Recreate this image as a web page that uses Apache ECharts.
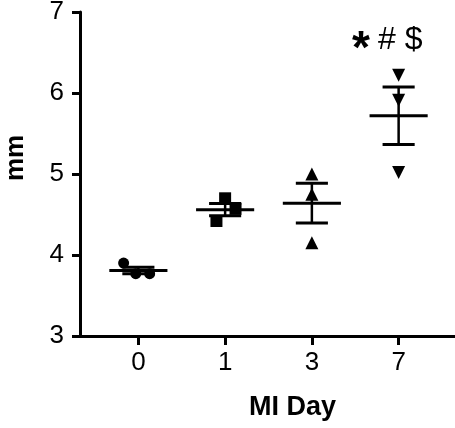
<!DOCTYPE html>
<html><head><meta charset="utf-8">
<script src="https://cdn.jsdelivr.net/npm/echarts@6/dist/echarts.min.js"></script>
<style>html,body{margin:0;padding:0;background:#fff}#c{width:455px;height:428px}</style>
</head><body><div id="c"></div>
<script>
const categories = ['0', '1', '3', '7'];
const yMin = 3, yMax = 7, yStep = 1;
const day0 = [3.90, 3.77, 3.77];
const day1 = [4.70, 4.57, 4.42];
const day3 = [5.00, 4.75, 4.15];
const day7 = [6.22, 5.91, 5.02];
const jitter0 = [-0.17, -0.03, 0.13];
const jitter1 = [0, 0.12, -0.10];
const jitter3 = [0, 0, 0];
const jitter7 = [0, 0, 0];
const means = [3.81, 4.56, 4.64, 5.72];
const sems = [0.04, 0.075, 0.245, 0.355];
const annotationStar = '*';
const annotationRest = '# $';
const yName = 'mm';
const xName = 'MI Day';

const FONT = "'Liberation Sans', Arial, sans-serif";
const chart = echarts.init(document.getElementById('c'), null, {renderer: 'canvas'});

function pts(vals, jit, idx) {
  return vals.map((v, i) => [idx + jit[i], v]);
}

const groups = [
  {vals: day0, jit: jitter0, symbol: 'circle', size: 11, rot: 0},
  {vals: day1, jit: jitter1, symbol: 'rect', size: 12, rot: 0},
  {vals: day3, jit: jitter3, symbol: 'triangle', size: 13, rot: 0},
  {vals: day7, jit: jitter7, symbol: 'triangle', size: 13, rot: 180}
];

const scatterSeries = groups.map((g, i) => ({
  type: 'scatter',
  xAxisIndex: 1, yAxisIndex: 1,
  symbol: g.symbol, symbolSize: g.size, symbolRotate: g.rot,
  itemStyle: {color: '#000', opacity: 1},
  z: 5,
  silent: true,
  data: pts(g.vals, g.jit, i)
}));

const errData = means.map((m, i) => [i, m, sems[i]]);

const errSeries = {
  type: 'custom',
  xAxisIndex: 1, yAxisIndex: 1,
  z: 3,
  silent: true,
  data: errData,
  renderItem: function (params, api) {
    const x = api.value(0), m = api.value(1), s = api.value(2);
    const meanW = 0.335, capW = 0.185;
    const ml = api.coord([x - meanW, m]), mr = api.coord([x + meanW, m]);
    const top = api.coord([x, m + s]), bot = api.coord([x, m - s]);
    const tl = api.coord([x - capW, m + s]), tr = api.coord([x + capW, m + s]);
    const bl = api.coord([x - capW, m - s]), br = api.coord([x + capW, m - s]);
    const st = {stroke: '#000', lineWidth: 3, fill: null};
    return {
      type: 'group',
      children: [
        {type: 'line', shape: {x1: top[0], y1: top[1], x2: bot[0], y2: bot[1]}, style: {stroke: '#000', lineWidth: 2.5}},
        {type: 'line', shape: {x1: ml[0], y1: ml[1], x2: mr[0], y2: mr[1]}, style: st},
        {type: 'line', shape: {x1: tl[0], y1: tl[1], x2: tr[0], y2: tr[1]}, style: st},
        {type: 'line', shape: {x1: bl[0], y1: bl[1], x2: br[0], y2: br[1]}, style: st}
      ]
    };
  }
};

const option = {
  animation: false,
  backgroundColor: '#fff',
  grid: [
    {left: 80, right: 0, top: 12, bottom: 92, containLabel: false, outerBoundsMode: 'none'},
    {left: 95, width: 347, top: 12, bottom: 92, containLabel: false, outerBoundsMode: 'none'}
  ],
  xAxis: [
    {gridIndex: 0, type: 'value', min: 0, max: 1,
     axisLine: {show: true, lineStyle: {color: '#000', width: 3}},
     axisTick: {show: false}, axisLabel: {show: false}, splitLine: {show: false}},
    {gridIndex: 1, type: 'value', min: -0.5, max: 3.5, show: false},
    {gridIndex: 1, type: 'category', data: categories, position: 'bottom',
     axisLine: {show: false},
     axisTick: {show: true, alignWithLabel: true, length: 9, lineStyle: {color: '#000', width: 3}},
     axisLabel: {color: '#000', fontSize: 26, fontFamily: FONT, margin: 14},
     splitLine: {show: false},
     name: xName, nameLocation: 'middle', nameGap: 58,
     nameTextStyle: {color: '#000', fontSize: 27, fontWeight: 'bold', fontFamily: FONT, padding: [0, 0, 0, 48]}}
  ],
  yAxis: [
    {gridIndex: 0, type: 'value', min: yMin, max: yMax, interval: yStep,
     axisLine: {show: true, lineStyle: {color: '#000', width: 3}},
     axisTick: {show: true, length: 8, lineStyle: {color: '#000', width: 3}},
     axisLabel: {color: '#000', fontSize: 26, fontFamily: FONT, margin: 16, padding: [7, 0, 0, 0]},
     splitLine: {show: false},
     name: yName, nameLocation: 'middle', nameGap: 51,
     nameTextStyle: {color: '#000', fontSize: 26, fontWeight: 'bold', fontFamily: FONT, padding: [0, 0, 0, 32]}},
    {gridIndex: 1, type: 'value', min: yMin, max: yMax, show: false}
  ],
  graphic: [
    {type: 'text', left: 352, top: 27, z: 10,
     style: {text: annotationStar, fontSize: 46, fontWeight: 'bold', fontFamily: FONT, fill: '#000'}},
    {type: 'text', left: 378, top: 24, z: 10,
     style: {text: annotationRest, fontSize: 32, fontFamily: FONT, fill: '#000'}}
  ],
  series: [errSeries].concat(scatterSeries)
};
chart.setOption(option);
</script>
</body></html>
